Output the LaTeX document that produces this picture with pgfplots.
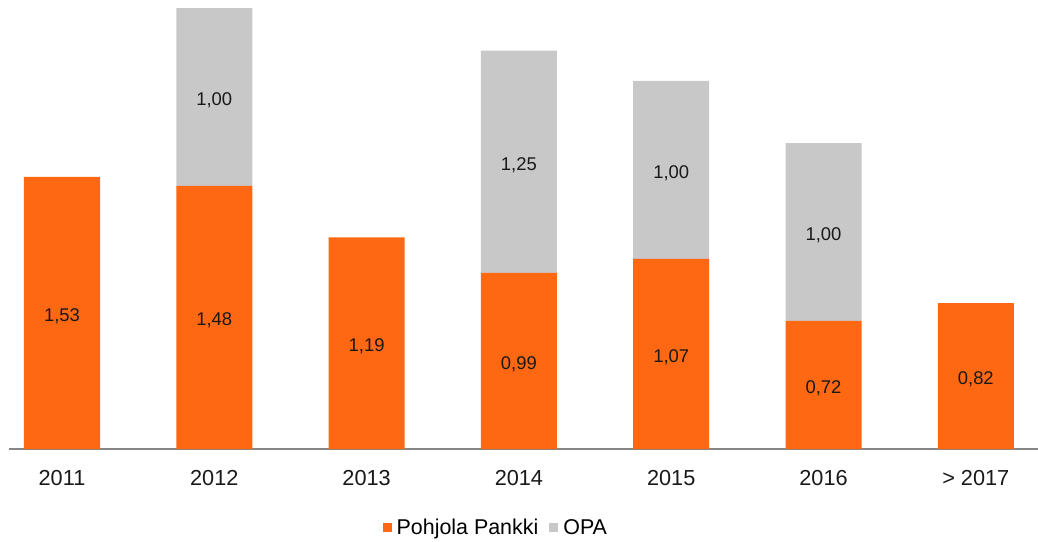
\documentclass[border=0pt]{standalone}
\usepackage{pgfplots}
\pgfplotsset{compat=1.18}
\usepackage{fontspec}
\setmainfont{Liberation Sans}
\definecolor{opor}{RGB}{255,104,19}
\definecolor{opgr}{RGB}{200,200,200}
\definecolor{axgr}{RGB}{134,134,134}
\pgfplotsset{common/.style={
  at={(62bp,93bp)}, anchor=origin,
  scale only axis,
  x=152.3bp, y=177.8bp,
  xmin=-0.348, xmax=6.41,
  ymin=0, ymax=2.52,
  clip=false}}
\begin{document}
\begin{tikzpicture}
\useasboundingbox (0,0) rectangle (1038bp,542bp);
\begin{axis}[
  common,
  ybar stacked, bar width=76bp,
  axis x line=bottom, axis y line=none,
  x axis line style={-, axgr, line width=1.2bp},
  xtick={0,1,2,3,4,5,6},
  xticklabels={2011,2012,2013,2014,2015,2016,{> 2017}},
  major tick length=0pt,
  xticklabel style={font=\fontsize{21.8}{24}\selectfont, text=black!90, yshift=-18bp},
  ytick=\empty,
  legend columns=2,
  legend style={at={(0.473,-0.176)}, anchor=center, draw=none, fill=none,
    font=\fontsize{21.5}{24}\selectfont,
    /tikz/every even column/.append style={column sep=9bp}},
  legend image code/.code={\fill[#1] (0bp,-4bp) rectangle (9bp,5bp);
    \path (12bp,0bp);},
]
\addplot[fill=opor, draw=none] coordinates {(0,1.53) (1,1.48) (2,1.19) (3,0.99) (4,1.07) (5,0.72) (6,0.82)};
\addlegendentry{Pohjola Pankki}
\addplot[fill=opgr, draw=none] coordinates {(0,0) (1,1.00) (2,0) (3,1.25) (4,1.00) (5,1.00) (6,0)};
\addlegendentry{OPA}
\end{axis}
\begin{axis}[
  common, hide axis,
  nodes near coords,
  point meta=explicit,
  every node near coord/.style={anchor=center, yshift=-3bp, font=\fontsize{18.5}{20}\selectfont, text=black!90},
  nodes near coords style={/pgf/number format/.cd, use comma, fixed, fixed zerofill, precision=2, assume math mode=true},
]
\addplot[draw=none, mark=none] coordinates {
  (0,0.765) [1.53] (1,0.74) [1.48] (2,0.595) [1.19] (3,0.495) [0.99]
  (4,0.535) [1.07] (5,0.36) [0.72] (6,0.41) [0.82]};
\addplot[draw=none, mark=none] coordinates {
  (1,1.98) [1.00] (3,1.615) [1.25] (4,1.57) [1.00] (5,1.22) [1.00]};
\end{axis}
\end{tikzpicture}
\end{document}
